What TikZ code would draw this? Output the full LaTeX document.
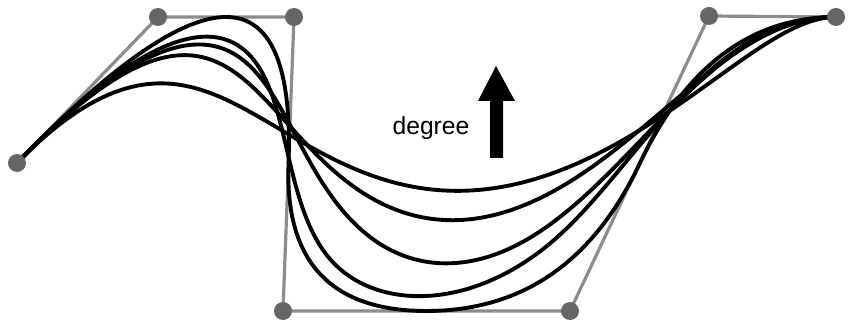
\documentclass[tikz,border=0pt]{standalone}
\usepackage{fontspec}
\setmainfont{Liberation Sans}
\ExplSyntaxOn
\clist_const:Nn \c_bs_px_clist {17,158,294,283,570,709,836}
\clist_const:Nn \c_bs_py_clist {163,17,17,311,311,17,17}
\int_new:N \l_bs_k_int
\fp_new:N \l_bs_t_fp
\fp_new:N \l_bs_a_fp
\int_step_inline:nnn {0} {6} { \fp_new:c {l_bs_dx_#1_fp} \fp_new:c {l_bs_dy_#1_fp} }
\tl_new:N \g_bs_path_tl
\cs_new:Npn \bs_u:nn #1#2 { min(max((#1)-(#2),0),7-(#2)) }
\cs_new_protected:Npn \bs_point:nn #1#2
 {
  \fp_set:Nn \l_bs_t_fp {#1}
  \int_set:Nn \l_bs_k_int { #2 + \fp_to_int:n { floor(\l_bs_t_fp) } }
  \int_compare:nNnT \l_bs_k_int > 6 { \int_set:Nn \l_bs_k_int {6} }
  \int_step_inline:nnn {0} {#2}
   {
    \fp_set:cn {l_bs_dx_##1_fp} { \clist_item:Nn \c_bs_px_clist { ##1 + \l_bs_k_int - #2 + 1 } }
    \fp_set:cn {l_bs_dy_##1_fp} { \clist_item:Nn \c_bs_py_clist { ##1 + \l_bs_k_int - #2 + 1 } }
   }
  \int_step_inline:nnn {1} {#2}
   {
    \int_step_inline:nnnn {#2} {-1} {##1}
     {
      \fp_set:Nn \l_bs_a_fp
       {
        ( \l_bs_t_fp - \bs_u:nn { ####1 + \l_bs_k_int - #2 } {#2} )
        / ( \bs_u:nn { ####1 + 1 + \l_bs_k_int - ##1 } {#2} - \bs_u:nn { ####1 + \l_bs_k_int - #2 } {#2} )
       }
      \fp_set:cn {l_bs_dx_####1_fp}
       { (1-\l_bs_a_fp) * \fp_use:c {l_bs_dx_\int_eval:n{####1-1}_fp} + \l_bs_a_fp * \fp_use:c {l_bs_dx_####1_fp} }
      \fp_set:cn {l_bs_dy_####1_fp}
       { (1-\l_bs_a_fp) * \fp_use:c {l_bs_dy_\int_eval:n{####1-1}_fp} + \l_bs_a_fp * \fp_use:c {l_bs_dy_####1_fp} }
     }
   }
  \tl_gput_right:Nx \g_bs_path_tl
   { ~--~( \fp_eval:n { round(\fp_use:c {l_bs_dx_#2_fp},3) } , \fp_eval:n { round(\fp_use:c {l_bs_dy_#2_fp},3) } ) }
 }
\NewDocumentCommand \bsbuild { m }
 {
  \tl_gset:Nn \g_bs_path_tl { (17,163) }
  \int_step_inline:nnn {1} {149}
   { \bs_point:nn { ##1 * (7-#1) / 150 } {#1} }
  \tl_gput_right:Nn \g_bs_path_tl { ~--~(836,17) }
  \cs_gset_eq:NN \bspath \g_bs_path_tl
 }
\ExplSyntaxOff
\definecolor{dotgray}{HTML}{666666}
\definecolor{polygray}{HTML}{8C8C8C}
\tikzset{
  polyline/.style={draw=polygray, line width=2.4pt, line join=round},
  bscurve/.style={draw=black, line width=2.9pt, line join=round, line cap=round},
  ctrldot/.style={circle, fill=dotgray, inner sep=0pt, minimum size=13.5pt},
  lbl/.style={font=\fontsize{18.5}{22}\selectfont, inner sep=0pt}
}
\begin{document}
\begin{tikzpicture}[x=0.75pt, y=-0.75pt]
\useasboundingbox (0,0) rectangle (848,327);
\coordinate (c0) at (17,163);
\coordinate (c1) at (158,17);
\coordinate (c2) at (294,17);
\coordinate (c3) at (283,311);
\coordinate (c4) at (570,311);
\coordinate (c5) at (709,16);
\coordinate (c6) at (836,17);
\draw[polyline] (c0) -- (c1) -- (c2) -- (c3) -- (c4) -- (c5) -- (c6);
\bsbuild{2}\draw[bscurve] \bspath;
\bsbuild{3}\draw[bscurve] \bspath;
\bsbuild{4}\draw[bscurve] \bspath;
\bsbuild{5}\draw[bscurve] \bspath;
\bsbuild{6}\draw[bscurve] \bspath;
\foreach \i in {0,...,6} { \node[ctrldot] (p\i) at (c\i) {}; }
\node[lbl] (deg) at (431,128) {degree};
\fill[black] (490,158) -- (503,158) -- (503,101) -- (515,101) -- (496,66) -- (478,101) -- (490,101) -- cycle;
\end{tikzpicture}
\end{document}
